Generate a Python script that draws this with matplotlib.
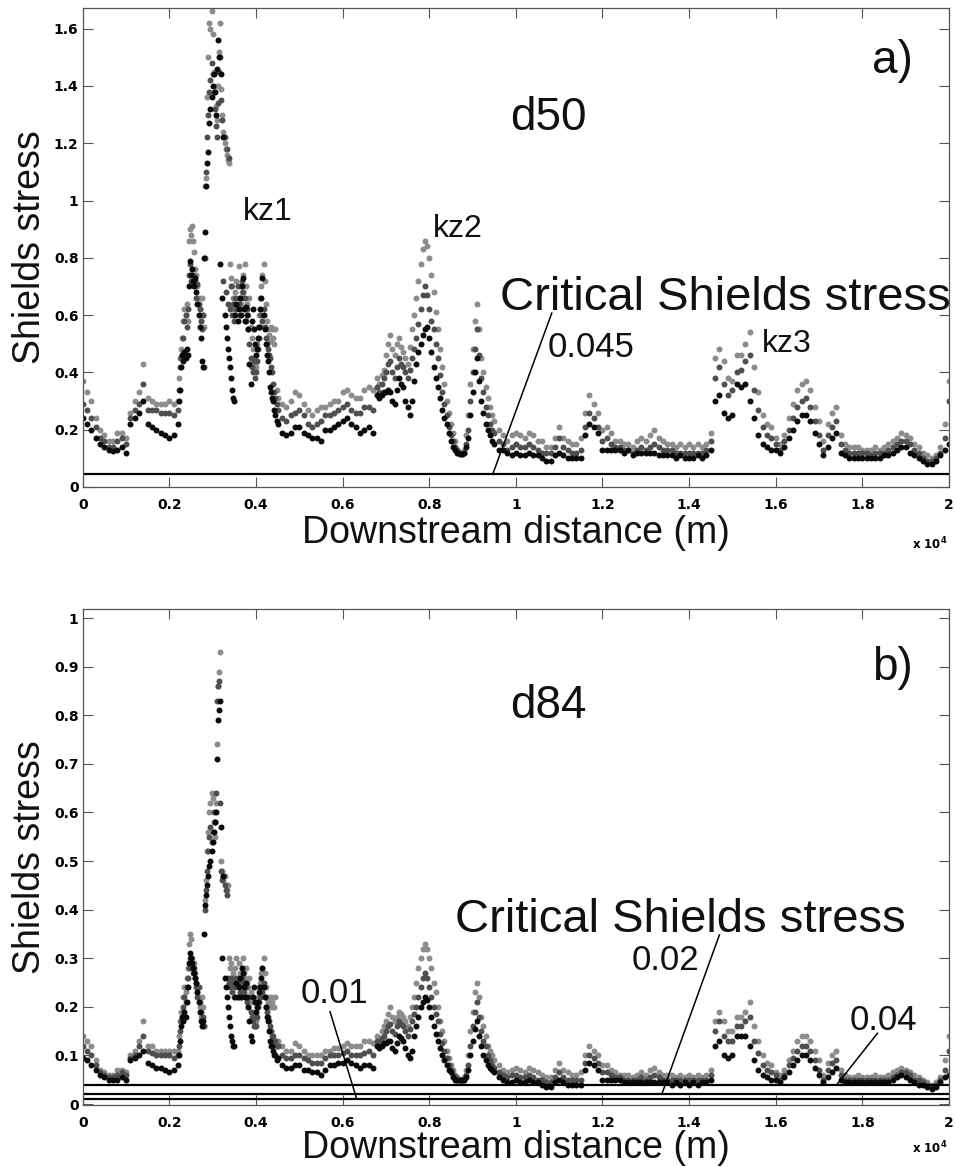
import numpy as np
import matplotlib
matplotlib.use('Agg')
import matplotlib.pyplot as plt
from matplotlib.ticker import FuncFormatter

# downstream distance (m): coarse grid, denser through the kz1 and kz2 reaches
dist = np.concatenate([np.arange(0, 2200, 100), np.arange(2200, 4500, 25), np.arange(4500, 6800, 100),
                       np.arange(6800, 9500, 50), np.arange(9500, 20001, 100)])

# ---- panel a (d50) ----
a_light = ([0.37, 0.33, 0.30, 0.24, 0.20, 0.18, 0.16, 0.16, 0.19, 0.19, 0.17, 0.26, 0.30, 0.33, 0.43, 0.31, 0.30, 0.29, 0.29, 0.29, 0.30, 0.29]
           + [0.30, 0.38, 0.45, 0.48, 0.52, 0.58, 0.62, 0.60, 0.64, 0.58, 0.86, 0.90,
              0.88, 0.91, 0.86, 0.82, 0.76, 0.74, 0.70, 0.66, 0.62, 0.58, 0.66, 0.60,
              0.56, 1.05, 1.08, 1.36, 1.50, 1.62, 1.60, 1.66, 1.58, 1.45, 1.40, 1.33,
              1.28, 1.40, 1.52, 1.62, 1.39, 1.30, 1.24, 1.20, 1.18, 1.16, 1.14, 1.13,
              0.78, 0.73, 0.70, 0.66, 0.62, 0.68, 0.72, 0.66, 0.77, 0.70, 0.64, 0.68,
              0.74, 0.66, 0.78, 0.70, 0.64, 0.60, 0.66, 0.56, 0.52, 0.48, 0.45, 0.43,
              0.42, 0.50, 0.56, 0.60, 0.66, 0.70, 0.74, 0.78, 0.72, 0.64, 0.58, 0.55,
              0.53, 0.51, 0.56, 0.55, 0.52, 0.50, 0.55, 0.34]
           + [0.31, 0.29, 0.28, 0.30, 0.33, 0.32, 0.29, 0.27, 0.25, 0.27,
              0.28, 0.28, 0.29, 0.30, 0.30, 0.33, 0.34, 0.32, 0.31, 0.31,
              0.34, 0.35, 0.34]
           + [0.38, 0.36, 0.39, 0.41, 0.46, 0.50, 0.53, 0.48, 0.46, 0.50,
              0.52, 0.49, 0.47, 0.45, 0.43, 0.49, 0.55, 0.60, 0.66, 0.72,
              0.78, 0.83, 0.86, 0.84, 0.80, 0.74, 0.68, 0.61, 0.55, 0.48,
              0.42, 0.36, 0.30, 0.26, 0.22, 0.19, 0.16, 0.13, 0.12, 0.12,
              0.13, 0.18, 0.25, 0.36, 0.48, 0.58, 0.64, 0.55, 0.45, 0.40,
              0.35, 0.31, 0.28, 0.25]
           + [0.23, 0.20, 0.18, 0.16, 0.18, 0.19, 0.18, 0.17, 0.19, 0.18,
              0.16, 0.16, 0.14, 0.14, 0.17, 0.21, 0.17, 0.16, 0.15, 0.15,
              0.17, 0.26, 0.32, 0.29, 0.26, 0.20, 0.21, 0.19, 0.16, 0.16,
              0.15, 0.15, 0.14, 0.16, 0.17, 0.16, 0.18, 0.20, 0.17, 0.16,
              0.15, 0.15, 0.14, 0.15, 0.14, 0.15, 0.14, 0.15, 0.14, 0.15,
              0.19, 0.45, 0.48, 0.44, 0.38, 0.37, 0.46, 0.46, 0.50, 0.54,
              0.42, 0.33, 0.25, 0.22, 0.21, 0.17, 0.15, 0.18, 0.24, 0.29,
              0.34, 0.36, 0.37, 0.34, 0.28, 0.23, 0.16, 0.22, 0.26, 0.28,
              0.18, 0.15, 0.14, 0.14, 0.14, 0.13, 0.13, 0.13, 0.14, 0.13,
              0.14, 0.15, 0.16, 0.17, 0.19, 0.18, 0.17, 0.15, 0.14, 0.12,
              0.11, 0.10, 0.11, 0.14, 0.22, 0.37])

a_dark = ([0.29, 0.27, 0.24, 0.21, 0.17, 0.16, 0.14, 0.14, 0.16, 0.17, 0.15, 0.24, 0.27, 0.29, 0.36, 0.27, 0.27, 0.27, 0.26, 0.26, 0.26, 0.25]
          + [0.27, 0.34, 0.42, 0.45, 0.46, 0.52, 0.58, 0.60, 0.56, 0.62, 0.74, 0.78,
             0.72, 0.76, 0.74, 0.70, 0.72, 0.66, 0.71, 0.64, 0.62, 0.58, 0.55, 0.60,
             0.42, 0.80, 1.10, 1.22, 1.30, 1.38, 1.42, 1.48, 1.44, 1.38, 1.32, 1.26,
             1.22, 1.34, 1.45, 1.50, 1.35, 1.28, 0.72, 1.22, 0.68, 1.18, 0.64, 1.15,
             0.62, 0.70, 0.60, 0.64, 0.58, 0.66, 0.62, 0.70, 0.64, 0.60, 0.66, 0.72,
             0.68, 0.62, 0.66, 0.58, 0.62, 0.55, 0.50, 0.45, 0.42, 0.40, 0.44, 0.38,
             0.40, 0.44, 0.48, 0.52, 0.56, 0.60, 0.58, 0.62, 0.56, 0.52, 0.50, 0.48,
             0.46, 0.45, 0.42, 0.40, 0.36, 0.33, 0.31, 0.29]
          + [0.27, 0.24, 0.23, 0.25, 0.26, 0.27, 0.25, 0.22, 0.21, 0.22,
             0.23, 0.25, 0.25, 0.26, 0.27, 0.28, 0.29, 0.27, 0.26, 0.26,
             0.28, 0.28, 0.27]
          + [0.35, 0.33, 0.36, 0.38, 0.40, 0.43, 0.44, 0.40, 0.38, 0.42,
             0.45, 0.43, 0.42, 0.40, 0.38, 0.41, 0.45, 0.48, 0.52, 0.57,
             0.62, 0.67, 0.70, 0.67, 0.62, 0.58, 0.55, 0.50, 0.45, 0.39,
             0.33, 0.29, 0.25, 0.21, 0.18, 0.16, 0.14, 0.13, 0.12, 0.115,
             0.12, 0.15, 0.20, 0.30, 0.40, 0.48, 0.55, 0.46, 0.38, 0.33,
             0.28, 0.25, 0.22, 0.20]
          + [0.19, 0.16, 0.15, 0.13, 0.14, 0.15, 0.14, 0.14, 0.15, 0.14,
             0.13, 0.12, 0.12, 0.12, 0.14, 0.17, 0.14, 0.13, 0.12, 0.12,
             0.13, 0.21, 0.26, 0.24, 0.21, 0.16, 0.17, 0.15, 0.14, 0.14,
             0.13, 0.13, 0.12, 0.13, 0.14, 0.13, 0.14, 0.15, 0.14, 0.13,
             0.13, 0.13, 0.12, 0.12, 0.12, 0.12, 0.12, 0.12, 0.12, 0.13,
             0.16, 0.38, 0.42, 0.36, 0.32, 0.34, 0.40, 0.41, 0.44, 0.46,
             0.34, 0.27, 0.21, 0.18, 0.17, 0.15, 0.13, 0.16, 0.20, 0.24,
             0.28, 0.30, 0.31, 0.28, 0.23, 0.18, 0.13, 0.18, 0.21, 0.23,
             0.15, 0.13, 0.12, 0.12, 0.12, 0.12, 0.12, 0.11, 0.12, 0.12,
             0.12, 0.13, 0.14, 0.15, 0.16, 0.16, 0.15, 0.13, 0.12, 0.10,
             0.09, 0.09, 0.10, 0.12, 0.17, 0.30])

a_black = ([0.24, 0.22, 0.20, 0.17, 0.15, 0.14, 0.13, 0.125, 0.13, 0.14, 0.12, 0.22, 0.24, 0.26, 0.30, 0.22, 0.21, 0.20, 0.19, 0.18, 0.17, 0.18]
           + [0.22, 0.30, 0.34, 0.42, 0.46, 0.44, 0.47, 0.45, 0.48, 0.46, 0.70, 0.79,
              0.74, 0.76, 0.72, 0.70, 0.73, 0.68, 0.64, 0.60, 0.56, 0.52, 0.44, 0.42,
              0.80, 0.89, 1.05, 1.13, 1.17, 1.27, 1.32, 1.36, 1.40, 1.44, 1.38, 1.30,
              1.46, 1.56, 1.50, 0.78, 1.44, 0.66, 1.22, 0.60, 0.56, 0.52, 0.48, 0.45,
              0.42, 0.38, 0.34, 0.31, 0.30, 0.60, 0.64, 0.58, 0.62, 0.66, 0.60, 0.70,
              0.73, 0.62, 0.58, 0.63, 0.60, 0.55, 0.43, 0.36, 0.58, 0.62, 0.55, 0.50,
              0.46, 0.48, 0.52, 0.56, 0.62, 0.66, 0.73, 0.60, 0.55, 0.50, 0.46, 0.44,
              0.40, 0.35, 0.33, 0.31, 0.30, 0.27, 0.25, 0.23]
           + [0.22, 0.19, 0.18, 0.19, 0.21, 0.21, 0.19, 0.18, 0.17, 0.17,
              0.16, 0.20, 0.20, 0.21, 0.22, 0.23, 0.24, 0.22, 0.21, 0.19,
              0.20, 0.21, 0.19]
           + [0.32, 0.31, 0.32, 0.33, 0.33, 0.34, 0.33, 0.30, 0.29, 0.34,
              0.38, 0.36, 0.35, 0.30, 0.28, 0.25, 0.30, 0.37, 0.43, 0.47,
              0.50, 0.53, 0.55, 0.56, 0.52, 0.47, 0.42, 0.38, 0.35, 0.31,
              0.27, 0.24, 0.22, 0.19, 0.16, 0.14, 0.13, 0.12, 0.115, 0.115,
              0.12, 0.14, 0.17, 0.25, 0.33, 0.40, 0.45, 0.37, 0.30, 0.26,
              0.22, 0.20, 0.18, 0.16]
           + [0.15, 0.13, 0.13, 0.12, 0.11, 0.12, 0.11, 0.11, 0.12, 0.11,
              0.11, 0.10, 0.09, 0.09, 0.11, 0.12, 0.11, 0.10, 0.10, 0.10,
              0.10, 0.18, 0.22, 0.21, 0.19, 0.13, 0.13, 0.13, 0.13, 0.13,
              0.12, 0.13, 0.11, 0.12, 0.12, 0.12, 0.12, 0.12, 0.11, 0.11,
              0.11, 0.11, 0.10, 0.11, 0.10, 0.10, 0.10, 0.11, 0.10, 0.11,
              0.13, 0.30, 0.32, 0.26, 0.24, 0.25, 0.36, 0.35, 0.36, 0.30,
              0.24, 0.18, 0.15, 0.14, 0.13, 0.13, 0.12, 0.14, 0.17, 0.20,
              0.23, 0.25, 0.25, 0.23, 0.19, 0.15, 0.11, 0.14, 0.17, 0.19,
              0.12, 0.11, 0.10, 0.10, 0.10, 0.10, 0.10, 0.10, 0.10, 0.10,
              0.11, 0.11, 0.12, 0.13, 0.14, 0.14, 0.12, 0.11, 0.10, 0.09,
              0.08, 0.08, 0.09, 0.11, 0.13, 0.15])

# ---- panel b (d84) ----
b_light = ([0.14, 0.13, 0.12, 0.09, 0.07, 0.065, 0.06, 0.06, 0.07, 0.07, 0.065, 0.10, 0.11, 0.13, 0.17, 0.12, 0.12, 0.11, 0.11, 0.11, 0.11, 0.11]
           + [0.11, 0.14, 0.17, 0.19, 0.18, 0.22, 0.24, 0.23, 0.26, 0.28, 0.33, 0.35,
              0.34, 0.30, 0.28, 0.29, 0.27, 0.25, 0.23, 0.22, 0.20, 0.18, 0.22, 0.20,
              0.16, 0.42, 0.46, 0.52, 0.56, 0.60, 0.62, 0.64, 0.63, 0.58, 0.55, 0.62,
              0.74, 0.86, 0.89, 0.93, 0.50, 0.48, 0.46, 0.47, 0.45, 0.44, 0.45, 0.30,
              0.28, 0.29, 0.26, 0.27, 0.25, 0.28, 0.30, 0.26, 0.29, 0.27, 0.25, 0.28,
              0.30, 0.27, 0.26, 0.28, 0.25, 0.24, 0.26, 0.23, 0.21, 0.19, 0.18, 0.17,
              0.17, 0.20, 0.22, 0.24, 0.25, 0.27, 0.28, 0.30, 0.27, 0.24, 0.22, 0.21,
              0.21, 0.20, 0.22, 0.21, 0.20, 0.20, 0.22, 0.13]
           + [0.13, 0.12, 0.11, 0.11, 0.125, 0.12, 0.11, 0.10, 0.10, 0.10,
              0.10, 0.11, 0.11, 0.115, 0.115, 0.12, 0.125, 0.12, 0.12, 0.12,
              0.13, 0.13, 0.125]
           + [0.14, 0.135, 0.15, 0.16, 0.17, 0.185, 0.20, 0.18, 0.17, 0.18,
              0.19, 0.185, 0.18, 0.17, 0.16, 0.18, 0.20, 0.22, 0.25, 0.28,
              0.30, 0.32, 0.33, 0.32, 0.30, 0.28, 0.25, 0.23, 0.20, 0.17,
              0.15, 0.13, 0.11, 0.095, 0.08, 0.07, 0.06, 0.055, 0.05, 0.05,
              0.055, 0.07, 0.10, 0.15, 0.19, 0.23, 0.25, 0.22, 0.18, 0.16,
              0.14, 0.12, 0.11, 0.10]
           + [0.09, 0.08, 0.07, 0.065, 0.07, 0.075, 0.07, 0.065, 0.075, 0.07,
              0.065, 0.06, 0.055, 0.055, 0.07, 0.085, 0.07, 0.065, 0.06, 0.06,
              0.065, 0.10, 0.12, 0.11, 0.10, 0.08, 0.08, 0.07, 0.065, 0.06,
              0.06, 0.06, 0.055, 0.06, 0.065, 0.06, 0.07, 0.075, 0.065, 0.06,
              0.06, 0.06, 0.055, 0.06, 0.055, 0.06, 0.055, 0.06, 0.055, 0.06,
              0.07, 0.17, 0.19, 0.17, 0.15, 0.15, 0.18, 0.18, 0.19, 0.21,
              0.16, 0.13, 0.10, 0.085, 0.08, 0.065, 0.06, 0.07, 0.09, 0.11,
              0.13, 0.14, 0.14, 0.13, 0.11, 0.09, 0.06, 0.085, 0.10, 0.11,
              0.07, 0.06, 0.055, 0.055, 0.06, 0.055, 0.055, 0.055, 0.06, 0.055,
              0.055, 0.06, 0.065, 0.07, 0.075, 0.07, 0.065, 0.06, 0.055, 0.05,
              0.045, 0.04, 0.045, 0.055, 0.09, 0.14])

b_dark = ([0.12, 0.11, 0.10, 0.08, 0.065, 0.06, 0.055, 0.055, 0.06, 0.065, 0.06, 0.095, 0.10, 0.12, 0.14, 0.11, 0.105, 0.10, 0.10, 0.10, 0.10, 0.095]
          + [0.10, 0.12, 0.15, 0.17, 0.17, 0.20, 0.22, 0.21, 0.24, 0.26, 0.28, 0.30,
             0.29, 0.28, 0.27, 0.28, 0.26, 0.24, 0.22, 0.24, 0.21, 0.19, 0.17, 0.18,
             0.16, 0.40, 0.44, 0.48, 0.52, 0.55, 0.57, 0.54, 0.56, 0.60, 0.58, 0.64,
             0.83, 0.86, 0.87, 0.62, 0.48, 0.46, 0.47, 0.45, 0.44, 0.43, 0.26, 0.25,
             0.24, 0.26, 0.23, 0.25, 0.22, 0.24, 0.26, 0.22, 0.25, 0.23, 0.22, 0.26,
             0.25, 0.23, 0.22, 0.24, 0.21, 0.20, 0.22, 0.19, 0.18, 0.17, 0.16, 0.16,
             0.16, 0.18, 0.20, 0.21, 0.22, 0.24, 0.23, 0.25, 0.22, 0.20, 0.19, 0.18,
             0.17, 0.16, 0.15, 0.14, 0.14, 0.13, 0.13, 0.12]
          + [0.12, 0.10, 0.095, 0.095, 0.10, 0.10, 0.095, 0.09, 0.085, 0.085,
             0.085, 0.095, 0.10, 0.10, 0.10, 0.105, 0.11, 0.10, 0.10, 0.10,
             0.105, 0.11, 0.10]
          + [0.13, 0.125, 0.135, 0.14, 0.15, 0.16, 0.165, 0.15, 0.145, 0.16,
             0.17, 0.165, 0.16, 0.15, 0.14, 0.155, 0.17, 0.185, 0.20, 0.22,
             0.24, 0.26, 0.27, 0.26, 0.24, 0.22, 0.20, 0.185, 0.17, 0.145,
             0.125, 0.11, 0.095, 0.08, 0.07, 0.06, 0.055, 0.05, 0.05, 0.05,
             0.05, 0.06, 0.08, 0.12, 0.16, 0.19, 0.21, 0.18, 0.15, 0.13,
             0.12, 0.10, 0.09, 0.08]
          + [0.075, 0.065, 0.06, 0.055, 0.06, 0.06, 0.055, 0.055, 0.06, 0.055,
             0.05, 0.05, 0.045, 0.045, 0.055, 0.065, 0.055, 0.05, 0.05, 0.05,
             0.05, 0.085, 0.10, 0.095, 0.085, 0.065, 0.065, 0.06, 0.055, 0.055,
             0.05, 0.05, 0.05, 0.05, 0.055, 0.05, 0.055, 0.06, 0.055, 0.05,
             0.05, 0.05, 0.05, 0.05, 0.05, 0.05, 0.05, 0.05, 0.05, 0.05,
             0.06, 0.15, 0.17, 0.14, 0.13, 0.13, 0.16, 0.16, 0.17, 0.18,
             0.13, 0.105, 0.08, 0.07, 0.065, 0.06, 0.05, 0.06, 0.08, 0.095,
             0.11, 0.12, 0.12, 0.11, 0.09, 0.07, 0.05, 0.07, 0.085, 0.09,
             0.06, 0.05, 0.05, 0.05, 0.05, 0.05, 0.05, 0.05, 0.05, 0.05,
             0.05, 0.05, 0.055, 0.06, 0.065, 0.065, 0.06, 0.05, 0.05, 0.045,
             0.04, 0.035, 0.04, 0.05, 0.07, 0.11])

b_black = ([0.095, 0.09, 0.08, 0.07, 0.06, 0.055, 0.05, 0.05, 0.05, 0.055, 0.05, 0.09, 0.095, 0.10, 0.11, 0.085, 0.08, 0.075, 0.075, 0.07, 0.065, 0.07]
           + [0.08, 0.10, 0.13, 0.16, 0.18, 0.17, 0.19, 0.18, 0.21, 0.24, 0.29, 0.31,
              0.30, 0.29, 0.28, 0.27, 0.26, 0.25, 0.23, 0.21, 0.19, 0.17, 0.16, 0.17,
              0.35, 0.41, 0.43, 0.45, 0.47, 0.49, 0.50, 0.52, 0.54, 0.56, 0.58, 0.60,
              0.71, 0.79, 0.81, 0.83, 0.57, 0.30, 0.47, 0.26, 0.24, 0.22, 0.20, 0.18,
              0.16, 0.14, 0.13, 0.12, 0.12, 0.22, 0.25, 0.22, 0.24, 0.26, 0.22, 0.28,
              0.27, 0.24, 0.22, 0.25, 0.22, 0.20, 0.17, 0.14, 0.13, 0.22, 0.24, 0.21,
              0.19, 0.20, 0.21, 0.23, 0.24, 0.26, 0.28, 0.24, 0.22, 0.20, 0.18, 0.17,
              0.15, 0.13, 0.12, 0.12, 0.11, 0.10, 0.10, 0.09]
           + [0.095, 0.08, 0.075, 0.075, 0.08, 0.08, 0.07, 0.07, 0.065, 0.065,
              0.06, 0.07, 0.08, 0.08, 0.085, 0.085, 0.09, 0.085, 0.08, 0.075,
              0.08, 0.08, 0.075]
           + [0.12, 0.115, 0.12, 0.125, 0.125, 0.13, 0.13, 0.115, 0.11, 0.125,
              0.14, 0.135, 0.13, 0.115, 0.10, 0.095, 0.11, 0.14, 0.16, 0.18,
              0.20, 0.21, 0.22, 0.215, 0.20, 0.18, 0.16, 0.145, 0.13, 0.115,
              0.10, 0.09, 0.08, 0.07, 0.065, 0.055, 0.05, 0.05, 0.05, 0.05,
              0.05, 0.055, 0.07, 0.10, 0.13, 0.155, 0.17, 0.14, 0.12, 0.10,
              0.09, 0.08, 0.075, 0.07]
           + [0.065, 0.055, 0.05, 0.045, 0.045, 0.05, 0.045, 0.045, 0.05, 0.045,
              0.045, 0.04, 0.035, 0.035, 0.045, 0.05, 0.045, 0.04, 0.04, 0.04,
              0.04, 0.07, 0.085, 0.08, 0.07, 0.05, 0.05, 0.05, 0.05, 0.05,
              0.045, 0.045, 0.045, 0.045, 0.045, 0.045, 0.045, 0.045, 0.045, 0.045,
              0.045, 0.04, 0.045, 0.04, 0.045, 0.04, 0.045, 0.04, 0.045, 0.045,
              0.05, 0.12, 0.13, 0.10, 0.095, 0.10, 0.14, 0.14, 0.14, 0.12,
              0.09, 0.07, 0.06, 0.055, 0.05, 0.05, 0.045, 0.055, 0.065, 0.08,
              0.09, 0.10, 0.10, 0.09, 0.075, 0.06, 0.045, 0.055, 0.065, 0.075,
              0.05, 0.045, 0.045, 0.045, 0.045, 0.045, 0.045, 0.045, 0.045, 0.045,
              0.045, 0.045, 0.05, 0.055, 0.06, 0.055, 0.05, 0.045, 0.04, 0.04,
              0.035, 0.03, 0.035, 0.045, 0.055, 0.06])

crit_a = [0.045]
crit_b = [0.01, 0.02, 0.04]

for name, s in [('a_light', a_light), ('a_dark', a_dark), ('a_black', a_black),
                ('b_light', b_light), ('b_dark', b_dark), ('b_black', b_black)]:
    if len(s) != len(dist):
        raise SystemExit('%s has %d values, expected %d' % (name, len(s), len(dist)))

shades = ['#8c8c8c', '#4f4f4f', '#0a0a0a']
W, H = 955, 1167

fig = plt.figure(figsize=(W / 100, H / 100), dpi=100)

def px_axes(left, top, right, bottom):
    return fig.add_axes([left / W, 1 - bottom / H, (right - left) / W, (bottom - top) / H])

ax_a = px_axes(82.7, 8, 949, 487)
ax_b = px_axes(82.7, 609.3, 949, 1105)

def style(ax, ylim, yticks):
    ax.set_xlim(0, 20000)
    ax.set_ylim(*ylim)
    ax.set_xticks(np.arange(0, 20001, 2000))
    ax.xaxis.set_major_formatter(FuncFormatter(lambda v, p: '%g' % round(v / 1e4, 4)))
    ax.set_yticks(yticks)
    ax.yaxis.set_major_formatter(FuncFormatter(lambda v, p: '%g' % round(v, 4)))
    ax.tick_params(direction='in', length=7, width=0.8, color='#555555', top=True, right=True)
    ax.tick_params(axis='x', pad=8)
    ax.tick_params(axis='y', pad=3)
    for lab in ax.get_xticklabels() + ax.get_yticklabels():
        lab.set_fontfamily('DejaVu Sans')
        lab.set_fontweight('bold')
        lab.set_fontsize(10)
    for sp in ax.spines.values():
        sp.set_color('#555555')
        sp.set_linewidth(0.9)

big = dict(family='Liberation Sans', color='#111111')
dot = 4.3

# panel a
for s, c in zip([a_light, a_dark, a_black], shades):
    ax_a.plot(dist, s, 'o', ms=dot, mec='none', color=c)
for v in crit_a:
    ax_a.axhline(v, color='black', lw=1.6)
style(ax_a, (0, 1.672), np.arange(0, 1.61, 0.2))
ax_a.plot([10829, 9467], [0.607, crit_a[0]], color='black', lw=1.1)
ax_a.text(9866, 1.246, 'd50', fontsize=33, **big)
ax_a.text(18225, 1.445, 'a)', fontsize=33, **big)
ax_a.text(3702, 0.932, 'kz1', fontsize=23, **big)
ax_a.text(8088, 0.873, 'kz2', fontsize=23, **big)
ax_a.text(15685, 0.471, 'kz3', fontsize=23, **big)
ax_a.text(9636, 0.618, 'Critical Shields stress', fontsize=34, **big)
ax_a.text(10744, 0.455, '0.045', fontsize=25, **big)

# panel b
for s, c in zip([b_light, b_dark, b_black], shades):
    ax_b.plot(dist, s, 'o', ms=dot, mec='none', color=c)
for v in crit_b:
    ax_b.axhline(v, color='black', lw=1.6)
style(ax_b, (-0.002, 1.018), np.arange(0, 1.01, 0.1))
ax_b.plot([5710, 6327], [0.190, crit_b[0]], color='black', lw=1.1)
ax_b.plot([14699, 13369], [0.348, crit_b[1]], color='black', lw=1.1)
ax_b.plot([18348, 17410], [0.1455, crit_b[2]], color='black', lw=1.1)
ax_b.text(9866, 0.794, 'd84', fontsize=33, **big)
ax_b.text(18225, 0.872, 'b)', fontsize=33, **big)
ax_b.text(8590, 0.354, 'Critical Shields stress', fontsize=34, **big)
ax_b.text(5024, 0.208, '0.01', fontsize=25, **big)
ax_b.text(12683, 0.276, '0.02', fontsize=25, **big)
ax_b.text(17717, 0.152, '0.04', fontsize=25, **big)

# axis labels and exponent notes
for ycen, xbase, expo in [(247.5, 543, 549), (857, 1158, 1153)]:
    fig.text(12 / W, 1 - ycen / H, 'Shields stress', rotation=90, ha='left', va='center',
             fontsize=27, **big)
    fig.text(516 / W, 1 - xbase / H, 'Downstream distance (m)', ha='center', va='baseline',
             fontsize=27, **big)
    fig.text(948 / W, 1 - expo / H, r'x 10$^{\mathbf{4}}$', ha='right', va='baseline',
             fontsize=8.5, fontweight='bold', family='DejaVu Sans')

fig.savefig('out.png', dpi=100)
